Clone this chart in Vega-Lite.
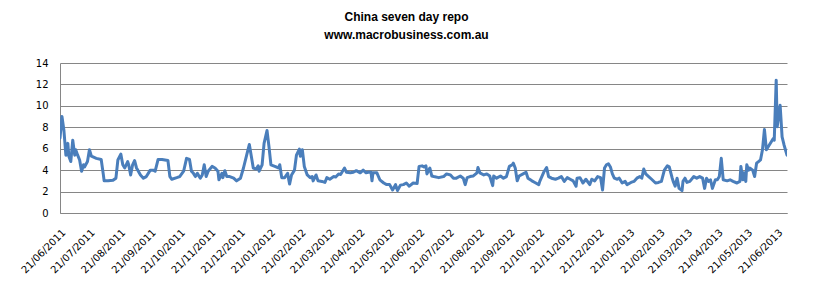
{
"$schema":"https://vega.github.io/schema/vega-lite/v6.json",
"autosize":{"type":"none"},
"padding":{"left":60,"top":63,"right":27,"bottom":76},
"width":727,"height":150,
"background":"white",
"title":{"text":["China seven day repo","www.macrobusiness.com.au"],"fontSize":12,"fontWeight":"bold","font":"Liberation Sans","color":"black","lineHeight":18,"anchor":"middle","dx":-17,"offset":16},
"config":{"view":{"stroke":null},"axis":{"labelFont":"DejaVu Sans","labelFontSize":10,"labelColor":"black","gridColor":"#868686","domainColor":"#868686","ticks":false,"tickSize":0,"title":null}},
"data":{"values":[
{"d":"2011-06-21","v":7.0},{"d":"2011-06-23","v":9.0},{"d":"2011-06-25","v":7.7},{"d":"2011-06-27","v":5.4},{"d":"2011-06-29","v":6.5},{"d":"2011-06-30","v":5.3},
{"d":"2011-07-02","v":4.8},{"d":"2011-07-04","v":6.8},{"d":"2011-07-06","v":5.4},{"d":"2011-07-07","v":5.9},{"d":"2011-07-09","v":5.4},{"d":"2011-07-11","v":4.95},{"d":"2011-07-13","v":3.9},{"d":"2011-07-15","v":4.5},{"d":"2011-07-16","v":4.3},{"d":"2011-07-19","v":4.8},{"d":"2011-07-21","v":5.9},{"d":"2011-07-23","v":5.3},{"d":"2011-07-28","v":5.1},
{"d":"2011-08-02","v":5.0},{"d":"2011-08-04","v":3.7},{"d":"2011-08-05","v":3.0},{"d":"2011-08-09","v":3.0},{"d":"2011-08-14","v":3.05},{"d":"2011-08-17","v":3.25},{"d":"2011-08-19","v":4.95},{"d":"2011-08-22","v":5.5},{"d":"2011-08-24","v":4.5},{"d":"2011-08-26","v":4.2},{"d":"2011-08-29","v":4.8},{"d":"2011-08-30","v":4.5},
{"d":"2011-09-01","v":3.55},{"d":"2011-09-03","v":4.5},{"d":"2011-09-05","v":4.9},{"d":"2011-09-07","v":4.2},{"d":"2011-09-11","v":3.55},{"d":"2011-09-14","v":3.25},{"d":"2011-09-17","v":3.4},{"d":"2011-09-21","v":4.0},{"d":"2011-09-24","v":4.0},{"d":"2011-09-26","v":3.9},{"d":"2011-09-29","v":5.0},
{"d":"2011-10-03","v":5.0},{"d":"2011-10-09","v":4.9},{"d":"2011-10-11","v":3.4},{"d":"2011-10-13","v":3.15},{"d":"2011-10-18","v":3.3},{"d":"2011-10-21","v":3.4},{"d":"2011-10-25","v":3.9},{"d":"2011-10-28","v":5.1},{"d":"2011-10-31","v":5.0},
{"d":"2011-11-02","v":3.9},{"d":"2011-11-04","v":3.7},{"d":"2011-11-06","v":3.4},{"d":"2011-11-08","v":3.7},{"d":"2011-11-11","v":3.25},{"d":"2011-11-13","v":3.55},{"d":"2011-11-15","v":4.5},{"d":"2011-11-17","v":3.4},{"d":"2011-11-19","v":3.9},{"d":"2011-11-23","v":4.35},{"d":"2011-11-26","v":4.2},{"d":"2011-11-29","v":3.9},{"d":"2011-11-30","v":3.1},
{"d":"2011-12-03","v":3.7},{"d":"2011-12-04","v":3.3},{"d":"2011-12-06","v":3.95},{"d":"2011-12-08","v":3.4},{"d":"2011-12-11","v":3.4},{"d":"2011-12-15","v":3.25},{"d":"2011-12-18","v":3.0},{"d":"2011-12-22","v":3.25},{"d":"2011-12-25","v":4.2},{"d":"2011-12-28","v":5.3},{"d":"2011-12-31","v":6.4},
{"d":"2012-01-02","v":5.3},{"d":"2012-01-04","v":4.2},{"d":"2012-01-07","v":4.1},{"d":"2012-01-09","v":4.4},{"d":"2012-01-10","v":3.9},{"d":"2012-01-13","v":4.5},{"d":"2012-01-15","v":6.5},{"d":"2012-01-18","v":7.7},{"d":"2012-01-20","v":6.2},{"d":"2012-01-22","v":4.5},{"d":"2012-01-26","v":4.35},{"d":"2012-01-30","v":4.2},{"d":"2012-01-31","v":4.5},
{"d":"2012-02-02","v":3.3},{"d":"2012-02-05","v":3.3},{"d":"2012-02-08","v":3.7},{"d":"2012-02-10","v":2.7},{"d":"2012-02-12","v":3.55},{"d":"2012-02-15","v":4.0},{"d":"2012-02-17","v":5.4},{"d":"2012-02-20","v":5.97},{"d":"2012-02-21","v":5.3},{"d":"2012-02-23","v":5.9},{"d":"2012-02-25","v":4.35},{"d":"2012-02-28","v":3.55},
{"d":"2012-03-02","v":3.3},{"d":"2012-03-04","v":3.4},{"d":"2012-03-05","v":3.0},{"d":"2012-03-08","v":3.55},{"d":"2012-03-10","v":3.0},{"d":"2012-03-14","v":2.95},{"d":"2012-03-17","v":2.85},{"d":"2012-03-19","v":3.3},{"d":"2012-03-22","v":3.15},{"d":"2012-03-26","v":3.4},{"d":"2012-03-28","v":3.35},{"d":"2012-03-31","v":3.65},
{"d":"2012-04-02","v":3.6},{"d":"2012-04-06","v":4.2},{"d":"2012-04-08","v":3.8},{"d":"2012-04-12","v":3.75},{"d":"2012-04-15","v":3.8},{"d":"2012-04-18","v":3.95},{"d":"2012-04-22","v":3.75},{"d":"2012-04-25","v":4.0},{"d":"2012-04-28","v":3.75},{"d":"2012-04-30","v":3.8},
{"d":"2012-05-03","v":3.8},{"d":"2012-05-04","v":3.0},{"d":"2012-05-05","v":3.75},{"d":"2012-05-09","v":3.75},{"d":"2012-05-12","v":3.1},{"d":"2012-05-16","v":2.8},{"d":"2012-05-19","v":2.65},{"d":"2012-05-22","v":2.65},{"d":"2012-05-25","v":2.15},{"d":"2012-05-28","v":2.65},{"d":"2012-05-30","v":2.1},
{"d":"2012-06-02","v":2.6},{"d":"2012-06-05","v":2.65},{"d":"2012-06-08","v":2.8},{"d":"2012-06-11","v":2.5},{"d":"2012-06-15","v":2.8},{"d":"2012-06-19","v":2.75},{"d":"2012-06-21","v":4.35},{"d":"2012-06-24","v":4.4},{"d":"2012-06-26","v":4.3},{"d":"2012-06-28","v":4.4},{"d":"2012-06-29","v":3.65},
{"d":"2012-07-02","v":4.2},{"d":"2012-07-04","v":3.45},{"d":"2012-07-06","v":3.4},{"d":"2012-07-11","v":3.3},{"d":"2012-07-16","v":3.4},{"d":"2012-07-19","v":3.65},{"d":"2012-07-23","v":3.55},{"d":"2012-07-26","v":3.25},{"d":"2012-07-29","v":3.25},
{"d":"2012-08-02","v":3.45},{"d":"2012-08-05","v":3.25},{"d":"2012-08-07","v":2.65},{"d":"2012-08-09","v":3.3},{"d":"2012-08-12","v":3.4},{"d":"2012-08-15","v":3.45},{"d":"2012-08-19","v":3.75},{"d":"2012-08-20","v":4.25},{"d":"2012-08-22","v":3.75},{"d":"2012-08-26","v":3.55},{"d":"2012-08-29","v":3.65},
{"d":"2012-09-01","v":3.45},{"d":"2012-09-04","v":2.55},{"d":"2012-09-05","v":3.45},{"d":"2012-09-08","v":3.25},{"d":"2012-09-12","v":3.45},{"d":"2012-09-15","v":3.25},{"d":"2012-09-18","v":3.4},{"d":"2012-09-21","v":4.35},{"d":"2012-09-24","v":4.5},{"d":"2012-09-25","v":4.65},{"d":"2012-09-27","v":4.2},{"d":"2012-09-29","v":3.0},
{"d":"2012-10-01","v":3.45},{"d":"2012-10-05","v":3.65},{"d":"2012-10-08","v":3.8},{"d":"2012-10-10","v":3.25},{"d":"2012-10-14","v":3.0},{"d":"2012-10-17","v":2.85},{"d":"2012-10-21","v":2.65},{"d":"2012-10-22","v":2.95},{"d":"2012-10-26","v":3.8},{"d":"2012-10-29","v":4.25},{"d":"2012-10-31","v":3.4},
{"d":"2012-11-03","v":3.25},{"d":"2012-11-07","v":3.15},{"d":"2012-11-10","v":3.25},{"d":"2012-11-13","v":3.4},{"d":"2012-11-16","v":2.95},{"d":"2012-11-19","v":3.3},{"d":"2012-11-22","v":3.15},{"d":"2012-11-25","v":3.0},{"d":"2012-11-28","v":2.5},{"d":"2012-11-29","v":3.25},
{"d":"2012-12-02","v":3.3},{"d":"2012-12-05","v":2.8},{"d":"2012-12-08","v":3.15},{"d":"2012-12-12","v":2.65},{"d":"2012-12-14","v":3.15},{"d":"2012-12-17","v":3.0},{"d":"2012-12-20","v":3.4},{"d":"2012-12-23","v":3.3},{"d":"2012-12-25","v":2.15},{"d":"2012-12-27","v":4.2},{"d":"2012-12-29","v":4.5},{"d":"2012-12-31","v":4.6},
{"d":"2013-01-02","v":4.3},{"d":"2013-01-04","v":3.65},{"d":"2013-01-06","v":3.25},{"d":"2013-01-09","v":3.15},{"d":"2013-01-11","v":3.25},{"d":"2013-01-14","v":2.8},{"d":"2013-01-17","v":2.95},{"d":"2013-01-19","v":2.65},{"d":"2013-01-23","v":2.85},{"d":"2013-01-26","v":2.95},{"d":"2013-01-29","v":3.25},
{"d":"2013-02-01","v":3.4},{"d":"2013-02-03","v":3.25},{"d":"2013-02-05","v":4.1},{"d":"2013-02-07","v":3.65},{"d":"2013-02-10","v":3.4},{"d":"2013-02-13","v":3.15},{"d":"2013-02-17","v":2.8},{"d":"2013-02-20","v":2.85},{"d":"2013-02-23","v":2.95},{"d":"2013-02-26","v":4.0},
{"d":"2013-03-01","v":4.4},{"d":"2013-03-03","v":4.3},{"d":"2013-03-06","v":3.25},{"d":"2013-03-07","v":2.95},{"d":"2013-03-09","v":2.5},{"d":"2013-03-11","v":3.25},{"d":"2013-03-13","v":2.3},{"d":"2013-03-16","v":2.1},{"d":"2013-03-17","v":2.95},{"d":"2013-03-19","v":3.25},{"d":"2013-03-21","v":2.85},{"d":"2013-03-24","v":2.95},{"d":"2013-03-28","v":3.4},{"d":"2013-03-31","v":3.25},
{"d":"2013-04-03","v":3.4},{"d":"2013-04-06","v":3.25},{"d":"2013-04-08","v":2.3},{"d":"2013-04-10","v":3.25},{"d":"2013-04-12","v":2.95},{"d":"2013-04-14","v":3.1},{"d":"2013-04-16","v":2.3},{"d":"2013-04-19","v":3.1},{"d":"2013-04-21","v":3.1},{"d":"2013-04-23","v":3.4},{"d":"2013-04-25","v":5.1},{"d":"2013-04-27","v":3.1},
{"d":"2013-05-01","v":3.0},{"d":"2013-05-04","v":3.1},{"d":"2013-05-07","v":2.95},{"d":"2013-05-11","v":2.8},{"d":"2013-05-14","v":2.95},{"d":"2013-05-15","v":4.35},{"d":"2013-05-17","v":3.1},{"d":"2013-05-18","v":3.75},{"d":"2013-05-20","v":2.95},{"d":"2013-05-21","v":4.5},{"d":"2013-05-23","v":4.0},{"d":"2013-05-24","v":4.2},{"d":"2013-05-27","v":4.0},{"d":"2013-05-29","v":3.4},{"d":"2013-05-31","v":4.65},
{"d":"2013-06-02","v":4.8},{"d":"2013-06-04","v":4.95},{"d":"2013-06-06","v":5.9},{"d":"2013-06-08","v":7.8},{"d":"2013-06-10","v":5.9},{"d":"2013-06-12","v":6.2},{"d":"2013-06-15","v":6.65},{"d":"2013-06-17","v":6.95},{"d":"2013-06-18","v":6.8},{"d":"2013-06-20","v":12.4},{"d":"2013-06-21","v":8.05},{"d":"2013-06-24","v":10.05},{"d":"2013-06-26","v":7.1},{"d":"2013-06-28","v":6.35},{"d":"2013-07-01","v":5.4}
]},
"mark":{"type":"line","color":"#4A7EBB","strokeWidth":3,"strokeJoin":"round","strokeCap":"round","clip":true},
"encoding":{
"x":{"field":"d","type":"temporal","scale":{"type":"utc","domain":[{"year":2011,"month":6,"date":21,"utc":true},{"year":2013,"month":7,"date":1,"utc":true}],"nice":false},
"axis":{"labelExpr":"utcFormat(datum.value, '%d/%m/%Y')","labelAngle":-45,"labelOverlap":false,"labelBound":false,"labelFlush":false,"labelPadding":14,"grid":false,"domain":true,
"values":[{"year":2011,"month":6,"date":21,"utc":true},{"year":2011,"month":7,"date":21,"utc":true},{"year":2011,"month":8,"date":21,"utc":true},{"year":2011,"month":9,"date":21,"utc":true},{"year":2011,"month":10,"date":21,"utc":true},{"year":2011,"month":11,"date":21,"utc":true},{"year":2011,"month":12,"date":21,"utc":true},{"year":2012,"month":1,"date":21,"utc":true},{"year":2012,"month":2,"date":21,"utc":true},{"year":2012,"month":3,"date":21,"utc":true},{"year":2012,"month":4,"date":21,"utc":true},{"year":2012,"month":5,"date":21,"utc":true},{"year":2012,"month":6,"date":21,"utc":true},{"year":2012,"month":7,"date":21,"utc":true},{"year":2012,"month":8,"date":21,"utc":true},{"year":2012,"month":9,"date":21,"utc":true},{"year":2012,"month":10,"date":21,"utc":true},{"year":2012,"month":11,"date":21,"utc":true},{"year":2012,"month":12,"date":21,"utc":true},{"year":2013,"month":1,"date":21,"utc":true},{"year":2013,"month":2,"date":21,"utc":true},{"year":2013,"month":3,"date":21,"utc":true},{"year":2013,"month":4,"date":21,"utc":true},{"year":2013,"month":5,"date":21,"utc":true},{"year":2013,"month":6,"date":21,"utc":true}]}},
"y":{"field":"v","type":"quantitative","scale":{"domain":[0,14],"nice":false,"zero":true},"axis":{"values":[0,2,4,6,8,10,12,14],"grid":true,"domain":true,"labelPadding":12}}
}
}
